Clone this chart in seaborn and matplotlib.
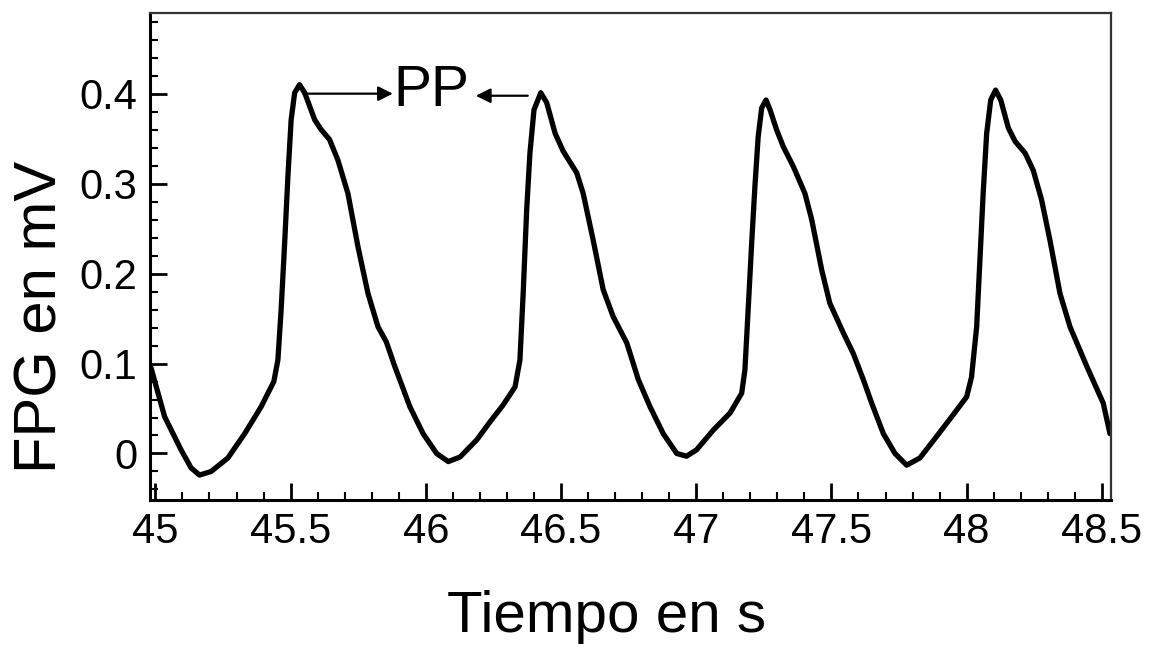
import matplotlib
matplotlib.use("Agg")
import matplotlib.pyplot as plt
import seaborn as sns
import pandas as pd
from matplotlib.ticker import MultipleLocator

# ---- data ----
tiempo = [44.984, 45.034, 45.095, 45.132, 45.163, 45.206, 45.268, 45.330, 45.391, 45.438,
          45.453, 45.465, 45.478, 45.490, 45.502, 45.515, 45.533, 45.552, 45.589, 45.613,
          45.644, 45.675, 45.712, 45.749, 45.786, 45.823, 45.854, 45.885, 45.941, 45.990,
          46.040, 46.083, 46.126, 46.188, 46.237, 46.286, 46.330, 46.348, 46.360, 46.373,
          46.385, 46.400, 46.425, 46.447, 46.478, 46.508, 46.558, 46.582, 46.619, 46.656,
          46.693, 46.743, 46.786, 46.829, 46.878, 46.928, 46.964, 47.001, 47.063, 47.125,
          47.168, 47.180, 47.192, 47.205, 47.217, 47.229, 47.242, 47.258, 47.273, 47.297,
          47.322, 47.359, 47.402, 47.427, 47.464, 47.494, 47.544, 47.581, 47.618, 47.650,
          47.692, 47.735, 47.778, 47.827, 47.889, 47.950, 48.000, 48.018, 48.037, 48.049,
          48.061, 48.074, 48.089, 48.107, 48.126, 48.154, 48.179, 48.216, 48.246, 48.277,
          48.308, 48.345, 48.382, 48.444, 48.505, 48.530]
fpg = [0.095, 0.041, 0.004, -0.016, -0.024, -0.020, -0.005, 0.022, 0.052, 0.080,
       0.104, 0.160, 0.234, 0.308, 0.371, 0.401, 0.410, 0.401, 0.371, 0.360,
       0.349, 0.326, 0.289, 0.230, 0.178, 0.141, 0.124, 0.097, 0.052, 0.022,
       0.000, -0.009, -0.004, 0.015, 0.035, 0.054, 0.074, 0.104, 0.178, 0.271,
       0.334, 0.382, 0.401, 0.390, 0.356, 0.336, 0.312, 0.289, 0.237, 0.182,
       0.152, 0.123, 0.082, 0.052, 0.022, 0.000, -0.003, 0.004, 0.026, 0.045,
       0.067, 0.093, 0.160, 0.234, 0.297, 0.352, 0.384, 0.393, 0.382, 0.360,
       0.341, 0.319, 0.289, 0.260, 0.204, 0.167, 0.134, 0.111, 0.082, 0.055,
       0.022, 0.000, -0.013, -0.005, 0.019, 0.043, 0.063, 0.085, 0.141, 0.215,
       0.289, 0.356, 0.393, 0.404, 0.393, 0.362, 0.347, 0.334, 0.315, 0.282,
       0.237, 0.178, 0.141, 0.097, 0.056, 0.022]
x_ticks = [45, 45.5, 46, 46.5, 47, 47.5, 48, 48.5]
x_tick_labels = ["45", "45.5", "46", "46.5", "47", "47.5", "48", "48.5"]
y_ticks = [0, 0.1, 0.2, 0.3, 0.4]
y_tick_labels = ["0", "0.1", "0.2", "0.3", "0.4"]
label_text = "PP"
arrow1 = [(45.546, 0.400), (45.878, 0.400)]   # (start, end)
arrow2 = [(46.377, 0.3977), (46.185, 0.3977)]

df = pd.DataFrame({"Tiempo": tiempo, "FPG": fpg})

sns.set_theme(style="white")
plt.rcParams["font.family"] = ["Liberation Sans", "DejaVu Sans"]

fig = plt.figure(figsize=(11.52, 6.48), dpi=100)
ax = fig.add_axes([0.1302, 0.2284, 0.964 - 0.1302, 0.9804 - 0.2284])

sns.lineplot(data=df, x="Tiempo", y="FPG", ax=ax, color="black", linewidth=3.8,
             sort=False, estimator=None, solid_joinstyle="round", solid_capstyle="round")

ax.set_xlim(44.98, 48.532)
ax.set_ylim(-0.0517, 0.49)

ax.set_xticks(x_ticks)
ax.set_xticklabels(x_tick_labels)
ax.set_yticks(y_ticks)
ax.set_yticklabels(y_tick_labels)
ax.xaxis.set_minor_locator(MultipleLocator(0.1))
ax.yaxis.set_minor_locator(MultipleLocator(0.02))

ax.tick_params(axis="both", which="major", direction="in", length=12, width=2,
               labelsize=30, color="black", labelcolor="black", pad=9)
ax.tick_params(axis="both", which="minor", direction="in", length=6, width=1.5,
               color="black")
ax.tick_params(axis="x", which="both", bottom=True, top=False)
ax.tick_params(axis="y", which="both", left=True, right=False)

for side in ["left", "bottom"]:
    ax.spines[side].set_linewidth(2.2)
    ax.spines[side].set_color("black")
for side in ["top", "right"]:
    ax.spines[side].set_linewidth(1.6)
    ax.spines[side].set_color("#333333")

ax.set_xlabel("Tiempo en s", fontsize=42, color="black")
ax.xaxis.set_label_coords(0.475, -0.185, transform=ax.transAxes)
ax.xaxis.label.set_va("top")
ax.set_ylabel("FPG en mV", fontsize=43, color="black")
ax.yaxis.set_label_coords(-0.113, 0.376, transform=ax.transAxes)
ax.yaxis.label.set_va("center")

ax.text(46.019, 0.403, label_text, fontsize=41, ha="center", va="center", color="black")
for (start, end) in [arrow1, arrow2]:
    ax.annotate("", xy=end, xytext=start,
                arrowprops=dict(arrowstyle="-|>", color="black", lw=1.6,
                                mutation_scale=22, shrinkA=0, shrinkB=0))

ax.grid(False)
fig.savefig("out.png", dpi=100)
